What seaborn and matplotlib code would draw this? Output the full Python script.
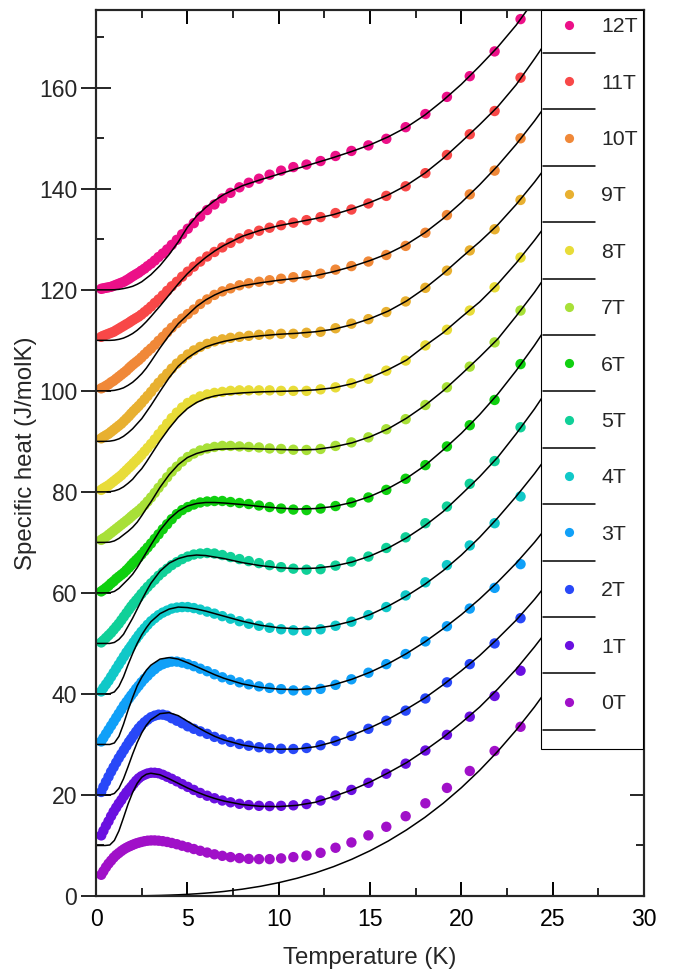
import matplotlib
matplotlib.use("Agg")
import matplotlib.pyplot as plt
import seaborn as sns
import pandas as pd
from matplotlib.lines import Line2D
from matplotlib.patches import Rectangle
from matplotlib.ticker import MultipleLocator

sns.set_style("ticks")
plt.rcParams['font.family'] = ['Liberation Sans', 'DejaVu Sans']

# ---------------- data ----------------
fields = ['0T', '1T', '2T', '3T', '4T', '5T', '6T', '7T', '8T', '9T', '10T', '11T', '12T']
colors = ['#A010C8', '#6A10E0', '#2848F8', '#10A0F8', '#10C8C8', '#10D098', '#10D010',
          '#A8E038', '#E8DC38', '#E8B030', '#F08838', '#F84848', '#EC1088']

# measured temperatures (K)
T_data = [0.28, 0.40, 0.54, 0.68, 0.82, 0.96, 1.10, 1.24, 1.38, 1.52, 1.66, 1.80,
          1.92, 2.05, 2.19, 2.33, 2.48, 2.65, 2.82, 3.01, 3.21, 3.42,
          3.65, 3.89, 4.14, 4.42, 4.71, 5.02, 5.35, 5.70, 6.08, 6.48,
          6.91, 7.36, 7.85, 8.36, 8.92, 9.50, 10.13,
          10.80, 11.52, 12.29, 13.11, 13.98, 14.91, 15.89, 16.95, 18.03, 19.21, 20.46, 21.82, 23.24]

c_0T = [4.2, 4.9, 5.7, 6.4, 7.0, 7.6, 8.1, 8.5, 8.9, 9.25, 9.55, 9.8,
        10.0, 10.2, 10.4, 10.55, 10.7, 10.85, 10.95, 11.0, 11.0, 10.95,
        10.85, 10.7, 10.5, 10.25, 9.95, 9.65, 9.3, 8.95, 8.6, 8.25,
        7.95, 7.7, 7.5, 7.35, 7.3, 7.3, 7.45,
        7.7, 8.0, 8.55, 9.55, 10.6, 12.0, 13.7, 15.8, 18.35, 21.4, 24.75, 28.7, 33.5]
c_1T = [12.0, 12.9, 13.9, 14.8, 15.8, 16.7, 17.5, 18.3, 19.0, 19.8, 20.5, 21.1,
        21.6, 22.2, 22.8, 23.3, 23.7, 24.0, 24.25, 24.4, 24.4, 24.3,
        24.0, 23.6, 23.2, 22.7, 22.15, 21.6, 21.0, 20.4, 19.85, 19.35,
        18.9, 18.55, 18.25, 18.0, 17.85, 17.8, 17.85,
        17.95, 18.2, 18.9, 19.9, 21.0, 22.4, 24.2, 26.2, 28.8, 31.9, 35.5, 39.6, 44.6]
c_2T = [20.6, 21.6, 22.6, 23.6, 24.6, 25.5, 26.4, 27.3, 28.1, 28.9, 29.7, 30.5,
        31.1, 31.8, 32.5, 33.2, 33.8, 34.4, 34.9, 35.4, 35.7, 35.9,
        35.9, 35.7, 35.2, 34.7, 34.2, 33.6, 33.1, 32.6, 32.1, 31.5,
        31.0, 30.5, 30.1, 29.75, 29.45, 29.25, 29.15,
        29.1, 29.3, 29.85, 30.7, 31.7, 33.1, 34.7, 36.7, 39.1, 42.3, 45.9, 50.0, 55.0]
c_3T = [30.6, 31.3, 32.1, 32.9, 33.7, 34.5, 35.3, 36.1, 36.9, 37.7, 38.4, 39.1,
        39.7, 40.3, 41.0, 41.6, 42.3, 43.0, 43.6, 44.3, 44.9, 45.5,
        45.9, 46.2, 46.4, 46.4, 46.2, 45.9, 45.5, 45.0, 44.5, 43.9,
        43.3, 42.8, 42.3, 41.9, 41.5, 41.2, 40.95,
        40.7, 40.7, 41.0, 41.8, 42.9, 44.2, 45.9, 47.9, 50.4, 53.4, 56.9, 61.0, 65.7]
c_4T = [40.5, 41.2, 41.9, 42.6, 43.4, 44.2, 45.0, 45.8, 46.6, 47.4, 48.2, 48.9,
        49.5, 50.2, 50.9, 51.6, 52.3, 53.0, 53.7, 54.4, 55.0, 55.6,
        56.1, 56.5, 56.9, 57.1, 57.2, 57.2, 57.0, 56.7, 56.3, 55.9,
        55.4, 54.9, 54.4, 53.9, 53.5, 53.1, 52.8,
        52.6, 52.5, 52.8, 53.5, 54.3, 55.6, 57.2, 59.5, 62.1, 65.5, 69.4, 73.8, 79.1]
c_5T = [50.2, 50.6, 51.1, 51.6, 52.1, 52.7, 53.3, 53.9, 54.6, 55.3, 56.0, 56.7,
        57.3, 57.9, 58.5, 59.1, 59.8, 60.5, 61.2, 61.9, 62.6, 63.4,
        64.1, 64.8, 65.5, 66.1, 66.7, 67.2, 67.6, 67.8, 67.9, 67.8,
        67.5, 67.1, 66.7, 66.3, 65.9, 65.5, 65.1,
        64.8, 64.6, 64.7, 65.4, 66.2, 67.2, 68.9, 71.0, 73.8, 77.1, 81.6, 86.1, 92.8]
c_6T = [60.3, 60.6, 61.0, 61.4, 61.9, 62.3, 62.8, 63.2, 63.6, 64.0, 64.5, 65.0,
        65.5, 66.0, 66.5, 67.0, 67.6, 68.3, 69.0, 69.8, 70.7, 71.6,
        72.6, 73.6, 74.6, 75.6, 76.4, 77.0, 77.5, 77.9, 78.1, 78.2,
        78.2, 78.0, 77.8, 77.6, 77.3, 77.0, 76.7,
        76.5, 76.4, 76.7, 77.2, 77.9, 78.9, 80.4, 82.6, 85.3, 89.0, 93.2, 98.2, 105.3]
c_7T = [70.5, 70.8, 71.1, 71.5, 71.9, 72.3, 72.7, 73.1, 73.5, 73.9, 74.3, 74.7,
        75.1, 75.5, 75.9, 76.3, 76.8, 77.4, 78.1, 78.9, 79.8, 80.8,
        81.8, 82.9, 84.0, 85.0, 86.0, 86.9, 87.6, 88.2, 88.6, 88.9,
        89.1, 89.1, 89.0, 88.9, 88.8, 88.6, 88.5,
        88.35, 88.3, 88.5, 89.1, 89.8, 90.8, 92.4, 94.4, 97.2, 100.7, 104.8, 109.6, 115.9]
c_8T = [80.4, 80.7, 81.0, 81.3, 81.7, 82.1, 82.5, 82.9, 83.3, 83.8, 84.3, 84.8,
        85.2, 85.7, 86.2, 86.7, 87.3, 88.0, 88.7, 89.5, 90.4, 91.4,
        92.4, 93.5, 94.6, 95.7, 96.7, 97.6, 98.3, 98.9, 99.3, 99.6,
        99.8, 100.0, 100.1, 100.1, 100.1, 100.1, 100.0,
        100.0, 100.0, 100.3, 100.7, 101.5, 102.4, 104.0, 106.0, 109.0, 112.1, 115.9, 120.5, 126.4]
c_9T = [90.6, 90.9, 91.2, 91.5, 91.9, 92.3, 92.7, 93.1, 93.5, 94.0, 94.5, 95.0,
        95.5, 96.0, 96.5, 97.0, 97.6, 98.3, 99.0, 99.8, 100.7, 101.6,
        102.5, 103.4, 104.4, 105.4, 106.3, 107.2, 108.0, 108.7, 109.3, 109.8,
        110.2, 110.5, 110.7, 110.9, 111.1, 111.2, 111.3,
        111.3, 111.5, 111.7, 112.4, 113.3, 114.2, 115.6, 117.7, 120.4, 123.8, 127.8, 132.0, 137.8]
c_10T = [100.5, 100.7, 101.0, 101.3, 101.7, 102.0, 102.4, 102.8, 103.2, 103.6, 104.0, 104.5,
         104.9, 105.3, 105.7, 106.1, 106.6, 107.2, 107.8, 108.4, 109.1, 109.9,
         110.7, 111.6, 112.5, 113.4, 114.3, 115.2, 116.1, 117.2, 118.1, 119.0,
         119.7, 120.3, 120.9, 121.3, 121.6, 121.9, 122.2,
         122.5, 122.9, 123.2, 124.0, 124.7, 125.6, 126.9, 128.7, 131.3, 134.8, 138.9, 143.6, 150.0]
c_11T = [110.7, 110.9, 111.1, 111.3, 111.5, 111.7, 112.0, 112.3, 112.6, 112.9, 113.2, 113.5,
         113.8, 114.1, 114.4, 114.7, 115.1, 115.6, 116.1, 116.7, 117.4, 118.1,
         118.9, 119.8, 120.7, 121.6, 122.6, 123.6, 124.6, 125.6, 126.6, 127.5,
         128.4, 129.3, 130.2, 131.0, 131.7, 132.3, 132.8,
         133.3, 133.8, 134.4, 135.2, 135.9, 137.1, 138.6, 140.5, 143.1, 146.7, 150.8, 155.4, 162.0]
c_12T = [120.2, 120.3, 120.4, 120.5, 120.6, 120.8, 121.0, 121.2, 121.4, 121.6, 121.9, 122.2,
         122.5, 122.8, 123.1, 123.4, 123.8, 124.2, 124.7, 125.2, 125.8, 126.5,
         127.2, 128.0, 128.9, 129.9, 131.0, 132.1, 133.2, 134.5, 135.8, 136.9,
         138.1, 139.2, 140.3, 141.2, 142.0, 142.8, 143.6,
         144.3, 144.8, 145.5, 146.5, 147.5, 148.6, 149.9, 152.2, 154.8, 158.2, 162.3, 167.2, 173.6]

# fit curves (K, J/molK)
T_fit = [0, 0.25, 0.5, 0.75, 1.0, 1.25, 1.5, 1.75, 2.0, 2.25, 2.5, 2.75, 3.0,
         3.5, 4.0, 4.5, 5.0, 5.5, 6.0, 6.5, 7.0,
         8, 9, 10, 11, 12, 13, 14, 15, 16,
         17, 18, 19, 20, 21, 22, 23, 24, 25]

f_0T = [0, 0, 0, 0, 0, 0.01, 0.01, 0.01, 0.02, 0.03, 0.04, 0.05, 0.07,
        0.11, 0.17, 0.24, 0.33, 0.44, 0.57, 0.72, 0.90,
        1.35, 1.92, 2.64, 3.51, 4.56, 5.81, 7.27, 8.96, 10.89,
        13.09, 15.56, 18.34, 21.44, 24.88, 28.67, 32.84, 37.41, 42.40]
f_1T = [10.0, 10.0, 10.0, 10.1, 11.0, 12.9, 15.5, 18.2, 20.5, 22.3, 23.5, 24.1, 24.3,
        24.0, 23.2, 22.3, 21.4, 20.6, 19.9, 19.3, 18.8,
        18.1, 17.75, 17.7, 17.95, 18.55, 19.7, 21.0, 22.55, 24.4,
        26.4, 28.8, 31.4, 34.3, 37.4, 41.0, 44.9, 49.3, 54.0]
f_2T = [20.0, 20.0, 20.0, 20.0, 20.3, 21.3, 23.2, 25.6, 28.1, 30.4, 32.3, 33.8, 34.9,
        36.1, 36.3, 35.7, 34.6, 33.5, 32.5, 31.6, 30.9,
        29.9, 29.3, 29.05, 29.1, 29.55, 30.5, 31.8, 33.3, 35.0,
        37.0, 39.2, 41.8, 44.6, 47.6, 51.0, 54.6, 58.7, 63.2]
f_3T = [30.0, 30.0, 30.0, 30.0, 30.3, 31.6, 34.0, 36.8, 39.3, 41.6, 43.3, 44.7, 45.7,
        46.9, 47.2, 46.9, 46.2, 45.4, 44.6, 43.8, 43.1,
        42.0, 41.3, 40.95, 40.85, 41.1, 41.8, 42.9, 44.3, 46.0,
        48.0, 50.3, 52.9, 55.7, 58.8, 62.2, 65.9, 70.0, 74.5]
f_4T = [40.0, 40.0, 40.0, 40.05, 40.4, 41.5, 43.4, 45.8, 48.0, 50.0, 51.7, 53.1, 54.3,
        55.9, 56.8, 57.2, 57.1, 56.8, 56.4, 55.9, 55.4,
        54.4, 53.6, 53.1, 52.9, 53.0, 53.5, 54.4, 55.7, 57.4,
        59.4, 61.7, 64.4, 67.5, 71.0, 74.9, 79.1, 83.6, 88.5]
f_5T = [50.0, 50.0, 50.0, 50.0, 50.2, 50.8, 51.8, 53.4, 55.0, 56.8, 58.6, 60.3, 61.9,
        64.3, 65.9, 66.8, 67.3, 67.5, 67.4, 67.1, 66.8,
        66.0, 65.4, 65.0, 64.8, 64.9, 65.3, 66.1, 67.3, 68.9,
        70.9, 73.3, 76.1, 79.5, 83.0, 86.9, 91.5, 96.4, 101.8]
f_6T = [60.0, 60.0, 60.0, 60.05, 60.3, 60.9, 61.8, 62.7, 63.7, 65.0, 66.5, 68.0, 69.5,
        72.4, 74.6, 76.2, 77.2, 77.7, 77.9, 77.9, 77.8,
        77.5, 77.1, 76.8, 76.6, 76.7, 77.1, 77.9, 79.1, 80.7,
        82.7, 85.2, 88.3, 91.6, 95.3, 99.4, 104.0, 109.0, 114.4]
f_7T = [70.0, 70.0, 70.0, 70.05, 70.3, 70.8, 71.5, 72.2, 73.0, 74.0, 75.3, 76.7, 78.0,
        80.9, 83.4, 85.4, 86.8, 87.6, 88.1, 88.4, 88.5,
        88.6, 88.5, 88.4, 88.3, 88.4, 88.9, 89.7, 90.9, 92.5,
        94.6, 97.1, 100.0, 103.3, 106.7, 110.3, 114.8, 119.5, 124.7]
f_8T = [80.0, 80.0, 80.0, 80.05, 80.2, 80.5, 81.0, 81.7, 82.5, 83.6, 84.6, 85.9, 87.3,
        90.1, 92.6, 94.8, 96.5, 97.7, 98.5, 99.0, 99.3,
        99.6, 99.8, 99.9, 100.0, 100.2, 100.6, 101.4, 102.6, 104.2,
        106.1, 108.9, 111.5, 114.6, 117.6, 121.2, 125.3, 129.8, 134.6]
f_9T = [90.0, 90.0, 90.0, 90.05, 90.2, 90.5, 91.0, 91.7, 92.5, 93.5, 94.5, 95.8, 97.1,
        99.9, 102.6, 104.9, 106.5, 107.7, 108.7, 109.3, 109.8,
        110.5, 110.9, 111.2, 111.4, 111.7, 112.2, 113.1, 114.3, 115.8,
        117.8, 120.3, 123.2, 126.4, 129.5, 132.9, 136.9, 141.3, 146.1]
f_10T = [100.0, 100.0, 100.0, 100.02, 100.1, 100.3, 100.6, 101.1, 101.7, 102.5, 103.4, 104.5, 105.8,
         108.5, 111.0, 113.3, 115.0, 116.7, 118.0, 119.0, 119.8,
         120.8, 121.4, 121.9, 122.3, 122.8, 123.6, 124.6, 125.8, 127.2,
         129.0, 131.3, 134.1, 137.3, 140.8, 144.6, 148.8, 153.4, 158.4]
f_11T = [110.0, 110.0, 110.0, 110.0, 110.05, 110.2, 110.45, 110.85, 111.35, 112.0, 112.8, 113.7, 114.7,
         116.8, 119.0, 121.2, 123.2, 124.9, 126.4, 127.7, 128.8,
         130.6, 131.8, 132.7, 133.4, 134.1, 134.9, 136.0, 137.3, 138.8,
         140.7, 143.1, 146.0, 149.3, 152.7, 156.3, 160.6, 165.7, 171.0]
f_12T = [120.0, 120.0, 120.0, 120.0, 120.02, 120.1, 120.25, 120.45, 120.7, 121.1, 121.6, 122.3, 123.0,
         124.8, 127.0, 129.5, 132.4, 134.6, 136.3, 137.7, 138.9,
         140.6, 141.8, 142.9, 144.0, 145.1, 146.2, 147.4, 148.7, 150.3,
         152.2, 154.6, 157.5, 160.7, 164.3, 168.1, 172.4, 177.4, 182.8]

dots = [c_0T, c_1T, c_2T, c_3T, c_4T, c_5T, c_6T, c_7T, c_8T, c_9T, c_10T, c_11T, c_12T]
fits = [f_0T, f_1T, f_2T, f_3T, f_4T, f_5T, f_6T, f_7T, f_8T, f_9T, f_10T, f_11T, f_12T]

xlabel = 'Temperature (K)'
ylabel = 'Specific heat (J/molK)'

# ---------------- tables ----------------
dot_df = pd.concat([pd.DataFrame({'T': T_data, 'C': v, 'field': f}) for f, v in zip(fields, dots)],
                   ignore_index=True)
fit_df = pd.concat([pd.DataFrame({'T': T_fit, 'C': v, 'field': f}) for f, v in zip(fields, fits)],
                   ignore_index=True)
palette = dict(zip(fields, colors))

# ---------------- figure ----------------
W, H = 673, 973
fig = plt.figure(figsize=(W / 100, H / 100), dpi=100)
x0, x1, y0, y1 = 96.1, 644.0, 896.0, 10.0
ax = fig.add_axes([x0 / W, 1 - y0 / H, (x1 - x0) / W, (y0 - y1) / H])

sns.scatterplot(data=dot_df, x='T', y='C', hue='field', hue_order=fields, palette=palette,
                s=56, linewidth=0, legend=False, ax=ax, zorder=2)
sns.lineplot(data=fit_df, x='T', y='C', units='field', estimator=None, sort=False,
             color='black', linewidth=1.1, ax=ax, legend=False, zorder=3)

ax.set_xlim(0, 30)
ax.set_ylim(0, 175.4)
ax.xaxis.set_major_locator(MultipleLocator(5))
ax.xaxis.set_minor_locator(MultipleLocator(2.5))
ax.yaxis.set_major_locator(MultipleLocator(20))
ax.yaxis.set_minor_locator(MultipleLocator(10))
ax.set_yticks([0, 20, 40, 60, 80, 100, 120, 140, 160])

for sp in ax.spines.values():
    sp.set_linewidth(1.5)
    sp.set_color('black')

ax.tick_params(axis='x', which='major', direction='in', length=10, width=1.4, top=True,
               labelsize=16.6, pad=8.5, colors='black')
ax.tick_params(axis='x', which='minor', direction='in', length=6, width=1.4, top=True)
ax.tick_params(axis='y', which='major', direction='inout', length=21, width=1.4, right=False,
               labelsize=16.6, pad=3)
ax.tick_params(axis='y', which='minor', direction='in', length=6, width=1.4, right=False)

ax.set_xlabel(xlabel, fontsize=17.3, labelpad=12)
ax.set_ylabel(ylabel, fontsize=17.3, labelpad=1.5)

# right-hand inward ticks
ax2 = ax.twinx()
ax2.set_ylim(ax.get_ylim())
ax2.yaxis.set_major_locator(MultipleLocator(20))
ax2.yaxis.set_minor_locator(MultipleLocator(10))
ax2.tick_params(axis='y', which='major', direction='in', length=10, width=1.4, labelright=False)
ax2.tick_params(axis='y', which='minor', direction='in', length=6, width=1.4)
for sp in ax2.spines.values():
    sp.set_linewidth(1.5)

# legend box (white, covers fit lines under it)
bx0, bx1, by0, by1 = 540.5, 643.3, 10.0, 749.0
box = Rectangle((bx0 / W, 1 - by1 / H), (bx1 - bx0) / W, (by1 - by0) / H,
                transform=fig.transFigure, facecolor='white', edgecolor='black',
                linewidth=0.8, clip_on=False, zorder=4)
ax2.add_patch(box)

# legend: dot entry then fit-line entry for each field, top = 12T
handles, labels = [], []
for f, c in zip(fields[::-1], colors[::-1]):
    handles.append(Line2D([], [], marker='o', linestyle='none', color=c, markersize=6.6,
                          markeredgewidth=0))
    labels.append(f)
    handles.append(Line2D([], [], color='black', linewidth=1.1))
    labels.append(' ')
leg = ax2.legend(handles, labels, loc='upper left',
                 bbox_to_anchor=(542.7 / W, 1 - 17.2 / H), bbox_transform=fig.transFigure,
                 borderaxespad=0, borderpad=0, fontsize=15.3, frameon=False,
                 handlelength=2.45, handletextpad=0.3, labelspacing=0.433)
leg.set_zorder(5)

fig.savefig('out.png', dpi=100)
